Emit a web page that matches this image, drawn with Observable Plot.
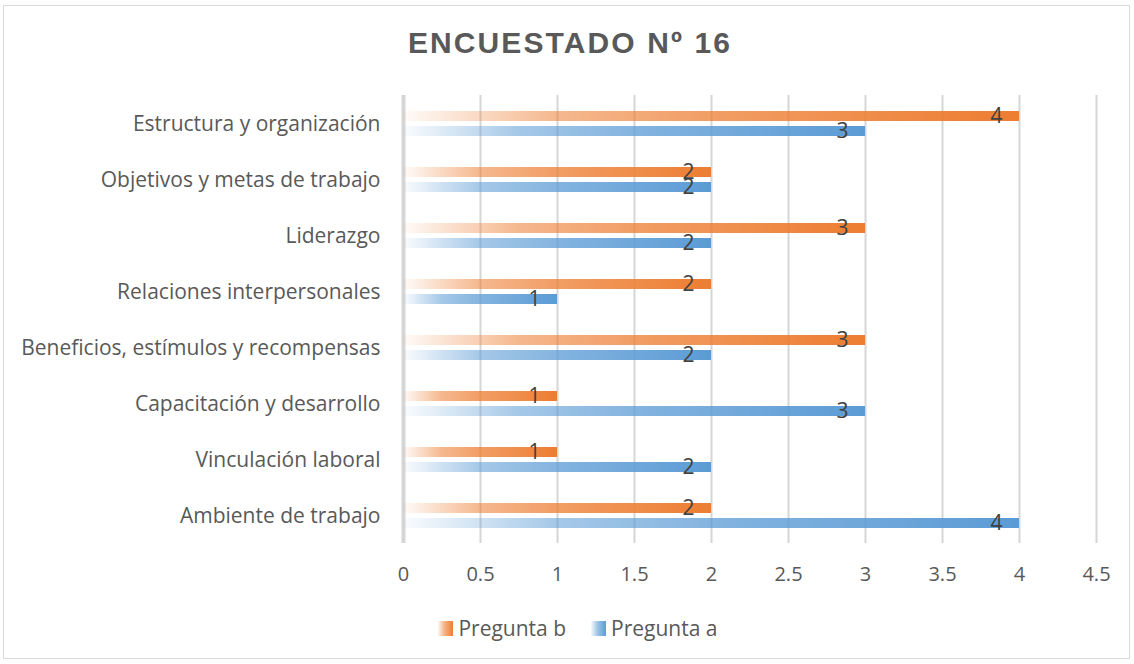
<!DOCTYPE html>
<html>
<head>
<meta charset="utf-8">
<script src="https://cdn.jsdelivr.net/npm/d3@7"></script>
<script src="https://cdn.jsdelivr.net/npm/@observablehq/plot@0.6"></script>
<style>
  html, body { margin: 0; padding: 0; background: #fff; }
  #wrap { position: relative; width: 1134px; height: 664px; overflow: hidden; font-family: "Open Sans", Lato, sans-serif; }
  #frame { position: absolute; left: 3px; top: 5px; width: 1127px; height: 654px; border: 1px solid #d9d9d9; box-sizing: border-box; }
  #title { position: absolute; left: 3px; width: 1134px; top: 26px; text-align: center; font-family: "Liberation Sans", Arial, sans-serif; font-weight: bold; font-size: 30px; color: #595959; letter-spacing: 2.1px; }
  #chart { position: absolute; left: 0; top: 80px; }
  #legend { position: absolute; top: 614px; left: 0; width: 1134px; display: flex; justify-content: center; gap: 25px; font-size: 21px; color: #595959; padding-left: 22px; box-sizing: border-box; }
  .item { display: flex; align-items: center; gap: 5px; }
  .sw { width: 15px; height: 15px; display: inline-block; }
</style>
</head>
<body>
<div id="wrap">
  <div id="frame"></div>
  <div id="title">ENCUESTADO Nº 16</div>
  <div id="chart"></div>
  <div id="legend"></div>
</div>
<script>
// Categories listed bottom to top (as in the source chart)
const categories = [
  "Ambiente de trabajo",
  "Vinculación laboral",
  "Capacitación y desarrollo",
  "Beneficios, estímulos y recompensas",
  "Relaciones interpersonales",
  "Liderazgo",
  "Objetivos y metas de trabajo",
  "Estructura y organización"
];
const preguntaA = [4, 2, 3, 2, 1, 2, 2, 3];
const preguntaB = [2, 1, 1, 3, 2, 3, 2, 4];
const seriesNames = ["Pregunta b", "Pregunta a"];
const seriesColors = ["#ed7d31", "#5b9bd5"];
const xTicks = [0, 0.5, 1, 1.5, 2, 2.5, 3, 3.5, 4, 4.5];

const dataB = categories.map((c, i) => ({category: c, value: preguntaB[i]}));
const dataA = categories.map((c, i) => ({category: c, value: preguntaA[i]}));

const chart = Plot.plot({
  width: 1134,
  height: 520,
  marginLeft: 403,
  marginRight: 38,
  marginTop: 15,
  marginBottom: 57,
  style: {fontFamily: "'Open Sans', Lato, sans-serif", fontSize: "20px", color: "#595959", background: "transparent"},
  x: {domain: [0, 4.5], label: null},
  y: {domain: categories.slice().reverse(), padding: 0, label: null},
  marks: [
    Plot.ruleX(xTicks.filter(d => d > 0), {stroke: "#d6d6d6", strokeWidth: 2}),
    Plot.ruleX([0], {stroke: "#d6d6d6", strokeWidth: 4}),
    Plot.axisX({ticks: xTicks, tickFormat: d => String(d), tickSize: 0, tickPadding: 23, fontSize: 20, label: null, fill: "#595959"}),
    Plot.axisY({tickSize: 0, tickPadding: 23, fontSize: 21, label: null, fill: "#595959", dy: 1}),
    Plot.barX(dataB, {x: "value", y: "category", fill: "url(#gradB)", insetTop: 16, insetBottom: 30}),
    Plot.barX(dataA, {x: "value", y: "category", fill: "url(#gradA)", insetTop: 31, insetBottom: 15}),
    Plot.text(dataB, {x: "value", y: "category", text: d => String(d.value), dy: -7, dx: -17, textAnchor: "end", fill: "#404040", fontSize: 21}),
    Plot.text(dataA, {x: "value", y: "category", text: d => String(d.value), dy: 8, dx: -17, textAnchor: "end", fill: "#404040", fontSize: 21})
  ]
});

// gradient definitions
const ns = "http://www.w3.org/2000/svg";
const defs = document.createElementNS(ns, "defs");
function makeGrad(id, color) {
  const g = document.createElementNS(ns, "linearGradient");
  g.setAttribute("id", id);
  g.setAttribute("x1", "0"); g.setAttribute("y1", "0");
  g.setAttribute("x2", "1"); g.setAttribute("y2", "0");
  [[0, 0.03], [0.25, 0.55], [0.5, 0.75], [1, 1]].forEach(([o, a]) => {
    const s = document.createElementNS(ns, "stop");
    s.setAttribute("offset", o);
    s.setAttribute("stop-color", color);
    s.setAttribute("stop-opacity", a);
    g.appendChild(s);
  });
  defs.appendChild(g);
}
makeGrad("gradB", seriesColors[0]);
makeGrad("gradA", seriesColors[1]);
chart.insertBefore(defs, chart.firstChild);
document.getElementById("chart").appendChild(chart);

// legend
const legend = document.getElementById("legend");
seriesNames.forEach((name, i) => {
  const item = document.createElement("span");
  item.className = "item";
  const sw = document.createElement("span");
  sw.className = "sw";
  sw.style.background = `linear-gradient(to right, ${seriesColors[i]}10, ${seriesColors[i]}99 45%, ${seriesColors[i]})`;
  const label = document.createElement("span");
  label.textContent = name;
  item.appendChild(sw); item.appendChild(label);
  legend.appendChild(item);
});
</script>
</body>
</html>
